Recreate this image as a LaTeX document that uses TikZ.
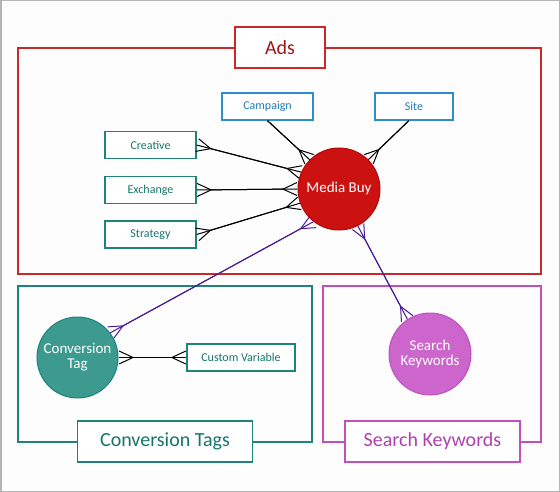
\documentclass[tikz,border=0pt]{standalone}
\usepackage{fontspec}
\setmainfont{Carlito}
\usetikzlibrary{arrows.meta}
\definecolor{adsred}{HTML}{C62A2A}
\definecolor{adstext}{HTML}{A01515}
\definecolor{mbfill}{HTML}{CC1111}
\definecolor{mbdraw}{HTML}{B00A0A}
\definecolor{tealline}{HTML}{1F8379}
\definecolor{tealtext}{HTML}{15756B}
\definecolor{tealfill}{HTML}{3C9A8F}
\definecolor{blueline}{HTML}{2E8FC8}
\definecolor{bluetext}{HTML}{1F7DB5}
\definecolor{magline}{HTML}{C050C0}
\definecolor{magtext}{HTML}{B040B0}
\definecolor{magfill}{HTML}{CC66CC}
\definecolor{relpurple}{HTML}{4B1A9A}
\definecolor{outergray}{HTML}{B4B4B4}
\definecolor{bgwhite}{HTML}{FDFDFD}
\begin{document}
\begin{tikzpicture}[x=1pt,y=-1pt,
  framebox/.style={draw, line width=1.4pt},
  titlebox/.style={draw, fill=white, line width=1.4pt, inner sep=0pt,
    font=\fontsize{20}{24}\selectfont},
  smallbox/.style={draw, fill=white, line width=1.3pt, inner sep=0pt,
    minimum height=27pt, font=\fontsize{12}{14}\selectfont},
  entity/.style={circle, inner sep=0pt, align=center, text=white,
    line width=1pt, font=\fontsize{15}{17}\selectfont},
  crow/.tip={Straight Barb[reversed,length=14pt,width=13pt]},
  rel/.style={line width=1pt, postaction={draw, arrows=-}},
]
\useasboundingbox (0,0) rectangle (560,492);
\draw[outergray, line width=1.5pt, fill=bgwhite] (0.75,0.75) rectangle (559.25,491.25);

% frames
\draw[framebox, adsred] (18,48) rectangle (541,274);
\draw[framebox, tealline] (18,286) rectangle (312,442);
\draw[framebox, magline] (323,286) rectangle (541,442);

% frame titles
\node[titlebox, draw=adsred, text=adstext, minimum width=90pt, minimum height=41pt] (adsT) at (280,47.5) {Ads};
\node[titlebox, draw=tealline, text=tealtext, minimum width=175pt, minimum height=41pt] (ctT) at (165,441.5) {Conversion Tags};
\node[titlebox, draw=magline, text=magtext, minimum width=175pt, minimum height=41pt] (skT) at (432.5,441.5) {Search Keywords};

% entities in Ads
\node[smallbox, draw=blueline, text=bluetext, minimum width=91pt] (camp) at (267.5,106.5) {Campaign};
\node[smallbox, draw=blueline, text=bluetext, minimum width=78pt] (site) at (414,106.5) {Site};
\node[smallbox, draw=tealline, text=tealtext, minimum width=91pt] (crea) at (150.5,145) {Creative};
\node[smallbox, draw=tealline, text=tealtext, minimum width=91pt] (exch) at (150.5,190) {Exchange};
\node[smallbox, draw=tealline, text=tealtext, minimum width=91pt] (strat) at (150.5,234.5) {Strategy};
\node[entity, fill=mbfill, draw=mbdraw, minimum size=82pt] (mb) at (339,189) {Media Buy};

% conversion tags
\node[entity, fill=tealfill, draw=tealline, minimum size=81pt] (ctag) at (77.5,357.5) {Conversion\\[-2pt]Tag};
\node[smallbox, draw=tealline, text=tealtext, minimum width=108pt] (cvar) at (241,357.5) {Custom Variable};

% search keywords
\node[entity, fill=magfill, draw=magline, minimum size=82pt] (skw) at (430,354) {Search\\[-2pt]Keywords};

% relations
\draw[rel, -crow] (camp.south) -- (mb.135);
\draw[rel, -crow] (site.250) -- (mb.45);
\draw[rel, crow-crow] (crea.east) -- (mb.156);
\draw[rel, crow-crow] (exch.east) -- (mb.180);
\draw[rel, crow-crow] (strat.east) -- (mb.200);
\draw[rel, crow-crow, relpurple] (mb.232) -- (ctag.37);
\draw[rel, crow-crow, relpurple] (mb.297) -- (skw.123);
\draw[rel, crow-crow] (ctag.east) -- (cvar.west);
\end{tikzpicture}
\end{document}
